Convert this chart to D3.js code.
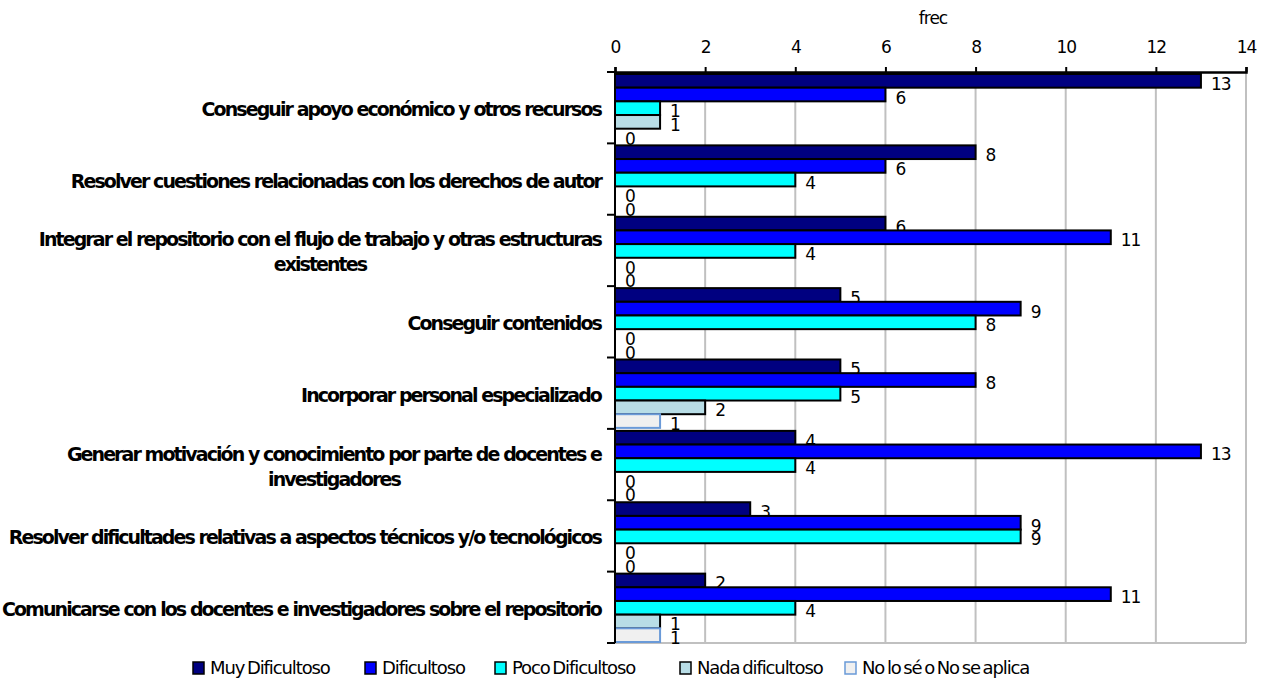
<!DOCTYPE html>
<html><head><meta charset="utf-8">
<script src="https://cdn.jsdelivr.net/npm/d3@7"></script>
<style>
body{margin:0;background:#fff;}
svg{display:block;}
</style></head>
<body><svg id="c" width="1265" height="679"></svg>
<script>
const categories = [
  ["Conseguir apoyo económico y otros recursos"],
  ["Resolver cuestiones relacionadas con los derechos de autor"],
  ["Integrar el repositorio con el flujo de trabajo y otras estructuras","existentes"],
  ["Conseguir contenidos"],
  ["Incorporar personal especializado"],
  ["Generar motivación y conocimiento por parte de docentes e","investigadores"],
  ["Resolver dificultades relativas a aspectos técnicos y/o tecnológicos"],
  ["Comunicarse con los docentes e investigadores sobre el repositorio"]
];
const seriesNames = ["Muy Dificultoso","Dificultoso","Poco Dificultoso","Nada dificultoso","No lo sé o No se aplica"];
const muyDificultoso = [13,8,6,5,5,4,3,2];
const dificultoso = [6,6,11,9,8,13,9,11];
const pocoDificultoso = [1,4,4,8,5,4,9,4];
const nadaDificultoso = [1,0,0,0,2,0,0,1];
const noLoSe = [0,0,0,0,1,0,0,1];
const xTicks = [0,2,4,6,8,10,12,14];
const axisTitle = "frec";

const seriesValues = [muyDificultoso, dificultoso, pocoDificultoso, nadaDificultoso, noLoSe];
const fills = ["#000080","#0000ff","#00ffff","#b8dde6","#f0f0f0"];
const strokes = ["#000","#000","#000","#000","#6a9ad8"];

const svg = d3.select("#c");
const L = 615, R = 1246, T = 72, B = 643;
const x = d3.scaleLinear().domain([0,14]).range([L,R]);
const y0 = d3.scaleBand().domain(d3.range(categories.length)).range([T,B]).padding(0);
const y1 = d3.scaleBand().domain(d3.range(seriesNames.length)).range([2, y0.bandwidth()-1]).padding(0);

// gridlines
svg.append("g").selectAll("line").data(xTicks.slice(1)).join("line")
  .attr("x1",d=>x(d)).attr("x2",d=>x(d)).attr("y1",T).attr("y2",B)
  .attr("stroke","#c0c0c0").attr("stroke-width",2);
svg.append("line").attr("x1",L).attr("x2",R).attr("y1",B).attr("y2",B)
  .attr("stroke","#c0c0c0").attr("stroke-width",2);

// bars and labels
seriesValues.forEach((vals,si)=>{
  const g = svg.append("g");
  g.selectAll("rect").data(vals).join("rect")
    .attr("x",x(0)).attr("y",(d,i)=>y0(i)+y1(si))
    .attr("width",d=>x(d)-x(0)).attr("height",y1.bandwidth())
    .attr("fill",fills[si]).attr("stroke",d=>d>0?strokes[si]:"none").attr("stroke-width",2);
  g.selectAll("text").data(vals).join("text")
    .attr("x",d=>x(d)+10).attr("y",(d,i)=>y0(i)+y1(si)+y1.bandwidth()/2+3)
    .attr("dominant-baseline","central")
    .attr("font-family","DejaVu Sans").attr("font-size",17).attr("letter-spacing","-1px")
    .attr("fill","#000").text(d=>d);
});

// top axis
const ax = svg.append("g").attr("transform",`translate(0,${T})`)
  .call(d3.axisTop(x).tickValues(xTicks).tickSize(5).tickPadding(14).tickFormat(d3.format("d")));
ax.select(".domain").attr("stroke","#000").attr("stroke-width",2.5);
ax.selectAll(".tick line").attr("stroke","#000").attr("stroke-width",2);
ax.selectAll(".tick text").attr("font-family","DejaVu Sans").attr("font-size",17)
  .attr("letter-spacing","-1px").attr("fill","#000");
svg.append("text").attr("x",933).attr("y",18).attr("text-anchor","middle")
  .attr("dominant-baseline","central").attr("font-family","DejaVu Sans").attr("font-size",17)
  .attr("letter-spacing","-1px").text(axisTitle);

// left axis
svg.append("line").attr("x1",L).attr("x2",L).attr("y1",T).attr("y2",B).attr("stroke","#000").attr("stroke-width",2);
svg.append("g").selectAll("line").data(d3.range(categories.length+1)).join("line")
  .attr("x1",L-8).attr("x2",L).attr("y1",d=>T+d*y0.step()).attr("y2",d=>T+d*y0.step())
  .attr("stroke","#000").attr("stroke-width",2);

// category labels
const cl = svg.append("g").attr("font-family","DejaVu Sans").attr("font-weight","bold")
  .attr("font-size",19).attr("letter-spacing","-1.93px").attr("fill","#000");
categories.forEach((lines,i)=>{
  const cy = y0(i)+y0.bandwidth()/2+1.5;
  if(lines.length===1){
    cl.append("text").attr("x",601).attr("y",cy).attr("text-anchor","end")
      .attr("dominant-baseline","central").text(lines[0]);
  } else {
    const t1 = cl.append("text").attr("x",601).attr("y",cy-12.5).attr("text-anchor","end")
      .attr("dominant-baseline","central").text(lines[0]);
    const w = t1.node().getComputedTextLength();
    cl.append("text").attr("x",601-w/2).attr("y",cy+12.5).attr("text-anchor","middle")
      .attr("dominant-baseline","central").text(lines[1]);
  }
});

// legend
const legX = [193,365,495,680,845];
const lg = svg.append("g").attr("font-family","DejaVu Sans").attr("font-size",18)
  .attr("letter-spacing","-1.1px").attr("word-spacing","-2px");
seriesNames.forEach((n,i)=>{
  lg.append("rect").attr("x",legX[i]).attr("y",662).attr("width",11).attr("height",12)
    .attr("fill",fills[i]).attr("stroke",strokes[i]).attr("stroke-width",1.5);
  lg.append("text").attr("x",legX[i]+17).attr("y",667).attr("dominant-baseline","central").text(n);
});
</script></body></html>
